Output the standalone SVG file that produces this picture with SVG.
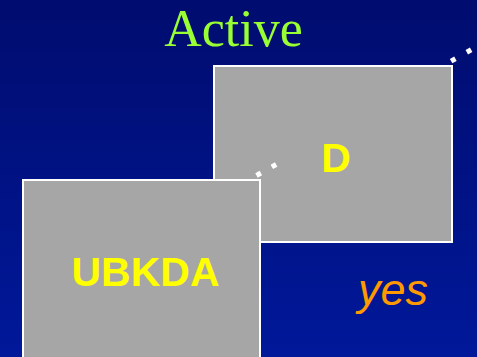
<svg xmlns="http://www.w3.org/2000/svg" width="477" height="357" viewBox="0 0 477 357">
  <defs>
    <linearGradient id="bg" x1="0" y1="0" x2="0" y2="1">
      <stop offset="0" stop-color="#000c6e"/>
      <stop offset="1" stop-color="#00189a"/>
    </linearGradient>
    <style>
      .box { fill: #a6a6a6; stroke: #ffffff; stroke-width: 2; }
      .lbl { font-family: "Liberation Sans", Arial, sans-serif; font-weight: bold; fill: #ffff00; text-anchor: middle; }
      .dots { fill: none; stroke: #ffffff; stroke-width: 5; }
    </style>
  </defs>
  <rect x="0" y="0" width="477" height="357" fill="url(#bg)"/>
  <text x="233.5" y="46" font-family="'Liberation Serif', 'Times New Roman', serif" font-size="52" fill="#99ff33" text-anchor="middle">Active</text>
  <g id="node-D">
    <rect class="box" x="214" y="66" width="238" height="176"/>
    <text class="lbl" x="336" y="172" font-size="41">D</text>
  </g>
  <g id="node-UBKDA">
    <rect class="box" x="23" y="180" width="237" height="190"/>
    <text class="lbl" x="145.5" y="286" font-size="41">UBKDA</text>
  </g>
  <g id="connectors">
    <line class="dots" x1="256.5" y1="175.5" x2="277" y2="164" stroke-dasharray="5 12.55"/>
    <line class="dots" x1="451.1" y1="61.2" x2="477" y2="46.4" stroke-dasharray="5 13.1"/>
  </g>
  <text x="393" y="305" font-family="'Liberation Sans', Arial, sans-serif" font-style="italic" font-size="45" fill="#ff9900" text-anchor="middle">yes</text>
</svg>
